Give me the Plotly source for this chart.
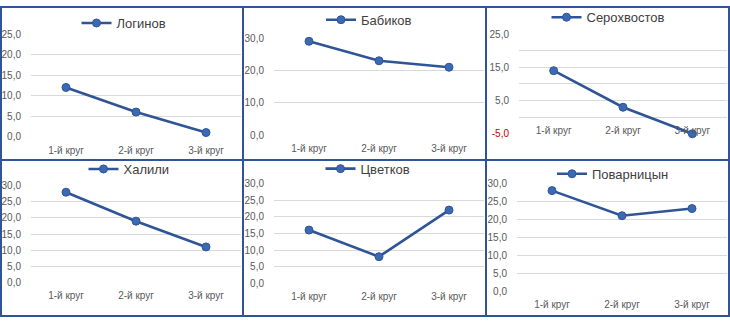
import plotly.graph_objects as go

# Rounds on the category axis
rounds = ["1-й круг", "2-й круг", "3-й круг"]

# Points scored per round by each participant
names = ["Логинов", "Бабиков", "Серохвостов", "Халили", "Цветков", "Поварницын"]
loginov = [12, 6, 1]
babikov = [29, 23, 21]
serokhvostov = [14, 3, -5]
khalili = [28, 19, 11]
tsvetkov = [16, 8, 22]
povarnitsyn = [28, 21, 23]
series = [loginov, babikov, serokhvostov, khalili, tsvetkov, povarnitsyn]

# Value axis settings per panel: range, labelled-tick step, gridline step
y_ranges = [(0, 25), (0, 30), (-5, 25), (0, 30), (0, 30), (0, 30)]
label_steps = [5, 10, 10, 5, 5, 5]
grid_steps = [5, 10, 5, 5, 5, 5]

W, H = 730, 323
LINE = "#2F5597"
GRID = "#D9D9D9"
TICK = "#595959"
FONT = "Liberation Sans"

# Plot-area rectangles in pixels: x0, x1, y_top, y_bottom
plot_px = [
    (31, 241, 29.3, 135.7),
    (274, 484, 33.3, 134.3),
    (519, 727, 29.3, 132.7),
    (31, 241, 186.7, 287.0),
    (274, 484, 184.3, 288.0),
    (517, 727, 184.3, 296.0),
]
# Legend centres in pixels
legend_px = [(124, 17.7), (369, 14.3), (608, 11.7), (129, 169.3), (368, 169.0), (613, 174.3)]
# Chart frames in pixels: x0, y0, x1, y1
frames_px = [
    (1, 1, 243, 160), (243, 1, 486, 160), (486, 1, 729, 160),
    (1, 160, 243, 322), (243, 160, 486, 322), (486, 160, 729, 322),
]


def px_x(x):
    return x / W


def px_y(y):
    return 1 - y / H


def fmt(v):
    s = f"{v:.1f}".replace(".", ",")
    if v < 0:
        return f'<span style="color:#C00000">{s}</span>'
    return s


def steps(lo, hi, step):
    out = []
    v = lo
    while v <= hi + 1e-9:
        out.append(v)
        v += step
    return out


fig = go.Figure()
layout = dict(
    width=W, height=H,
    margin=dict(l=0, r=0, t=0, b=0),
    paper_bgcolor="white", plot_bgcolor="white",
    showlegend=True,
    shapes=[],
)

for i, (name, vals) in enumerate(zip(names, series)):
    n = i + 1
    sfx = "" if n == 1 else str(n)
    leg = "legend" if n == 1 else f"legend{n}"
    fig.add_trace(go.Scatter(
        x=rounds, y=vals, name=name, mode="lines+markers",
        xaxis=f"x{sfx}", yaxis=f"y{sfx}", legend=leg,
        line=dict(color=LINE, width=2.6),
        marker=dict(size=8, color="#3C69B3", line=dict(color=LINE, width=1)),
        cliponaxis=False, hoverinfo="x+y",
    ))

    x0, x1, yt, yb = plot_px[i]
    lo, hi = y_ranges[i]
    ydom = [px_y(yb), px_y(yt)]
    labels = steps(lo, hi, label_steps[i])
    grids = steps(lo, hi, grid_steps[i])

    xaxis = dict(
        domain=[px_x(x0), px_x(x1)], anchor=f"y{sfx}", type="category",
        range=[-0.5, len(rounds) - 0.5],
        showgrid=False, showline=False, zeroline=False, ticks="",
        ticklabelstandoff=6,
        tickfont=dict(family=FONT, size=10, color=TICK), fixedrange=True,
    )
    if lo < 0:
        # category labels sit along the zero line
        frac = (0 - lo) / (hi - lo)
        xaxis["anchor"] = "free"
        xaxis["position"] = ydom[0] + frac * (ydom[1] - ydom[0])
    yaxis = dict(
        domain=ydom, anchor=f"x{sfx}", range=[lo, hi],
        tickvals=labels, ticktext=[fmt(v) for v in labels],
        showgrid=True, gridcolor=GRID, gridwidth=1, zeroline=False,
        showline=False, ticks="", ticklabelstandoff=9,
        tickfont=dict(family=FONT, size=10, color=TICK), fixedrange=True,
        minor=dict(tickvals=grids, showgrid=True, gridcolor=GRID, gridwidth=1, ticks=""),
    )
    layout[f"xaxis{sfx}"] = xaxis
    layout[f"yaxis{sfx}"] = yaxis

    lx, ly = legend_px[i]
    layout[leg] = dict(
        x=px_x(lx), y=px_y(ly), xanchor="center", yanchor="middle",
        orientation="h", bgcolor="rgba(0,0,0,0)", borderwidth=0,
        font=dict(family=FONT, size=13, color="#404040"),
        itemwidth=30, tracegroupgap=0,
    )

    fx0, fy0, fx1, fy1 = frames_px[i]
    layout["shapes"].append(dict(
        type="rect", xref="paper", yref="paper",
        x0=px_x(fx0), x1=px_x(fx1), y0=px_y(fy1), y1=px_y(fy0),
        line=dict(color=LINE, width=2), fillcolor="rgba(0,0,0,0)", layer="above",
    ))

fig.update_layout(**layout)
fig.write_html("out.html")
